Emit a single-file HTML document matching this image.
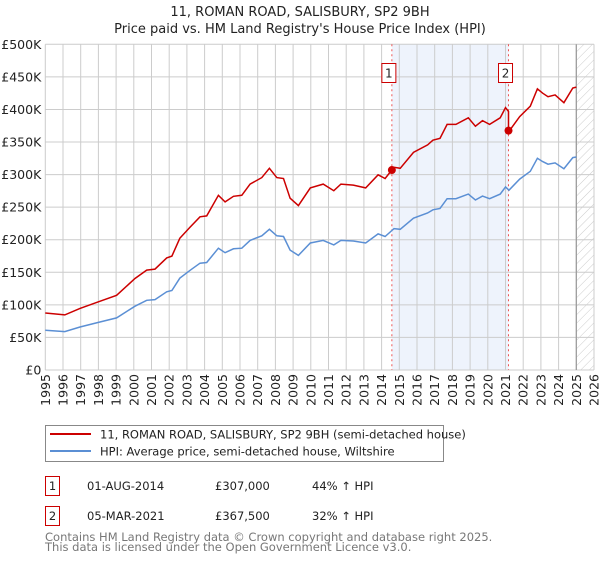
<!DOCTYPE html>
<html><head><meta charset="utf-8"><style>
body{margin:0;background:#fff;width:600px;height:560px;overflow:hidden;font-family:"DejaVu Sans","Liberation Sans",sans-serif}
svg text{font-family:"DejaVu Sans","Liberation Sans",sans-serif}
</style></head><body>
<svg id="chart" width="600" height="560" xmlns="http://www.w3.org/2000/svg">
<defs><pattern id="hatch" width="6" height="6" patternUnits="userSpaceOnUse" patternTransform="rotate(45)"><line x1="0" y1="0" x2="0" y2="6" stroke="#ccc" stroke-width="1"/></pattern></defs>
<text x="300" y="16" text-anchor="middle" font-size="13" fill="#222">11, ROMAN ROAD, SALISBURY, SP2 9BH</text>
<text x="300" y="33" text-anchor="middle" font-size="13" fill="#222">Price paid vs. HM Land Registry's House Price Index (HPI)</text>
<g id="plot"></g>
<g>
<rect x="45.5" y="425.5" width="398" height="36" fill="#fff" stroke="#888"/>
<line x1="50" y1="434" x2="91" y2="434" stroke="#cc0000" stroke-width="2"/>
<text x="100" y="438.5" font-size="11.5" fill="#222">11, ROMAN ROAD, SALISBURY, SP2 9BH (semi-detached house)</text>
<line x1="50" y1="451" x2="91" y2="451" stroke="#5b8fd4" stroke-width="2"/>
<text x="100" y="455.5" font-size="11.5" fill="#222">HPI: Average price, semi-detached house, Wiltshire</text>
</g>
<g font-size="11.5" fill="#222">
<rect x="45.5" y="476.5" width="14" height="19" fill="#fff" stroke="#cc0000"/>
<text x="52.5" y="490" text-anchor="middle">1</text>
<text x="87" y="490">01-AUG-2014</text><text x="215" y="490">£307,000</text><text x="312" y="490">44% ↑ HPI</text>
<rect x="45.5" y="506.5" width="14" height="19" fill="#fff" stroke="#cc0000"/>
<text x="52.5" y="520" text-anchor="middle">2</text>
<text x="87" y="520">05-MAR-2021</text><text x="215" y="520">£367,500</text><text x="312" y="520">32% ↑ HPI</text>
</g>
<text x="45" y="541" font-size="11.5" fill="#777">Contains HM Land Registry data © Crown copyright and database right 2025.</text>
<text x="45" y="551" font-size="11.5" fill="#777">This data is licensed under the Open Government Licence v3.0.</text>
</svg>
<script>
const yrs=[1995.0,1996.1,1996.96,1998.0,1999.03,2000.07,2000.73,2001.2,2001.86,2002.15,2002.6,2003.18,2003.74,2004.12,2004.78,2005.16,2005.63,2006.1,2006.57,2007.23,2007.66,2008.08,2008.46,2008.83,2009.3,2009.97,2010.7,2011.3,2011.7,2012.4,2013.1,2013.8,2014.2,2014.7,2015.05,2015.8,2016.6,2016.9,2017.3,2017.7,2018.2,2018.9,2019.3,2019.7,2020.1,2020.7,2021.0,2021.2,2021.8,2022.4,2022.8,2023.1,2023.4,2023.8,2024.3,2024.8,2025.0];
const hpiK=[61,59,66,73,80,98,107,108,120,122,141,153,164,165,187,180,186,187,199,206,216,206,205,184,176,195,199,192,199,198,195,209,205,217,216,233,241,246,248,263,263,270,261,267,263,270,281,276,293,305,325,320,316,318,309,326,327];
const saleYears=[2014.58,2021.17];
const salePrices=[307,367.5];
const yTicks=[0,50,100,150,200,250,300,350,400,450,500];
const yTickLabels=["£0","£50K","£100K","£150K","£200K","£250K","£300K","£350K","£400K","£450K","£500K"];
const xTicks=[1995,1996,1997,1998,1999,2000,2001,2002,2003,2004,2005,2006,2007,2008,2009,2010,2011,2012,2013,2014,2015,2016,2017,2018,2019,2020,2021,2022,2023,2024,2025,2026];

const NS="http://www.w3.org/2000/svg";
const L=45.3,R=594,T=44.3,B=370;
const xS=y=>L+(y-1995)/(2026-1995)*(R-L);
const yS=v=>B-v/500*(B-T);
const g=document.getElementById('plot');
function mk(tag,attrs,parent){const e=document.createElementNS(NS,tag);for(const k in attrs)e.setAttribute(k,attrs[k]);(parent||g).appendChild(e);return e;}
function hpiAt(t){for(let i=0;i<yrs.length-1;i++){if(t>=yrs[i]&&t<=yrs[i+1]){const f=(t-yrs[i])/(yrs[i+1]-yrs[i]);return hpiK[i]+f*(hpiK[i+1]-hpiK[i]);}}return hpiK[hpiK.length-1];}
let e=mk('rect',{x:xS(saleYears[0]),y:T,width:xS(saleYears[1])-xS(saleYears[0]),height:B-T,fill:'#eef3fc'});


e=mk('rect',{x:xS(2025),y:T,width:R-xS(2025),height:B-T,fill:'url(#hatch)'});


yTicks.forEach((v,i)=>{
 let l=mk('line',{x1:L,x2:R,y1:yS(v),y2:yS(v),stroke:'#ccc','stroke-width':1});
 
 
 let t=mk('text',{x:L-4,y:yS(v)+4.5,'text-anchor':'end','font-size':12.5,fill:'#222'});
 t.textContent=yTickLabels[i];
 
 
});
xTicks.forEach(y=>{
 let l=mk('line',{x1:xS(y),x2:xS(y),y1:T,y2:B,stroke:'#ccc','stroke-width':1});
 
 
 let t=mk('text',{x:0,y:0,'text-anchor':'end','font-size':12.5,fill:'#222',transform:`translate(${xS(y)+4.5},${B+4}) rotate(-90)`});
 t.textContent=y;
 
 
});
e=mk('line',{x1:xS(2025),x2:xS(2025),y1:T,y2:B,stroke:'#999','stroke-width':1.2});


saleYears.forEach((s,i)=>{
 let l=mk('line',{x1:xS(s),x2:xS(s),y1:T,y2:B,stroke:'#ee5555','stroke-width':1,'stroke-dasharray':'2,3'});
 
 
 let bx=xS(s)-10;
 let r=mk('rect',{x:bx,y:63.5,width:14,height:19,fill:'#fff',stroke:'#cc0000'});
 
 
 let t=mk('text',{x:bx+7,y:77.5,'text-anchor':'middle','font-size':12,fill:'#222'});
 t.textContent=String(i+1);
 
 
});
let d=yrs.map((y,i)=>(i?'L':'M')+xS(y).toFixed(1)+','+yS(hpiK[i]).toFixed(1)).join('');
e=mk('path',{d:d,fill:'none',stroke:'#5b8fd4','stroke-width':1.5});


const r1=salePrices[0]/hpiAt(saleYears[0]),r2=salePrices[1]/hpiAt(saleYears[1]);
let pts=[];
yrs.forEach((y,i)=>{ if(y<saleYears[1]) pts.push([y,hpiK[i]*r1]); });
pts.push([saleYears[1],hpiAt(saleYears[1])*r1]);
pts.push([saleYears[1],salePrices[1]]);
yrs.forEach((y,i)=>{ if(y>saleYears[1]) pts.push([y,hpiK[i]*r2]); });
d=pts.map((p,i)=>(i?'L':'M')+xS(p[0]).toFixed(1)+','+yS(p[1]).toFixed(1)).join('');
e=mk('path',{d:d,fill:'none',stroke:'#cc0000','stroke-width':1.5});


saleYears.forEach((s,i)=>{
 let c=mk('circle',{cx:xS(s),cy:yS(salePrices[i]),r:4,fill:'#cc0000'});
 
 
});
</script>
</body></html>
